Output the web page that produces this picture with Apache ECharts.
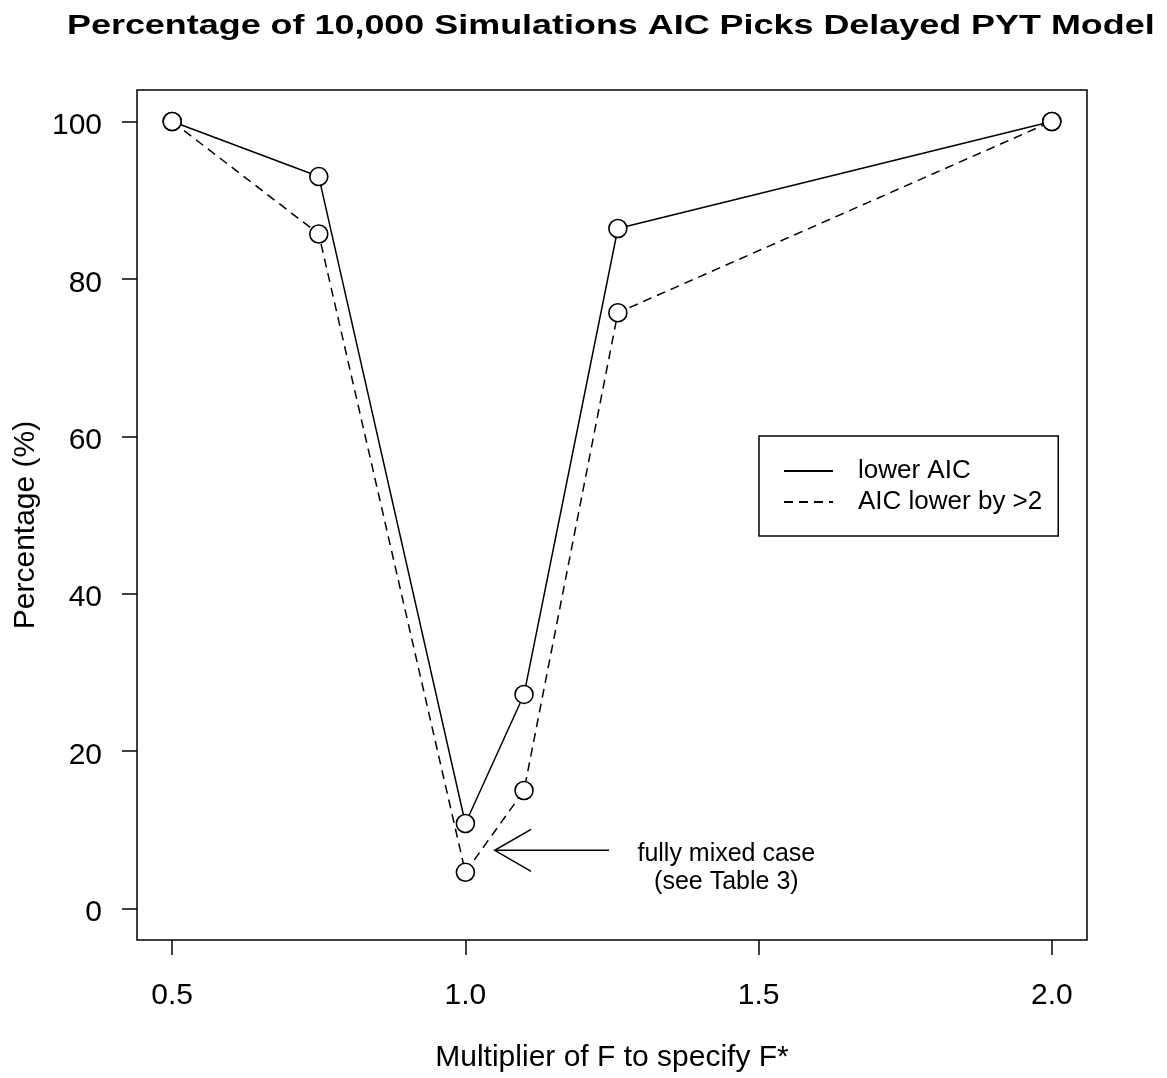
<!DOCTYPE html>
<html>
<head>
<meta charset="utf-8">
<script src="https://cdn.jsdelivr.net/npm/echarts@6/dist/echarts.min.js"></script>
<style>
  html, body { margin: 0; padding: 0; background: #fff; }
  #main { width: 1167px; height: 1078px; }
</style>
</head>
<body>
<div id="main"></div>
<script>
// 数据
const multipliers = [0.5, 0.75, 1.0, 1.1, 1.26, 2.0]
const lowerAIC = [100, 93.0, 10.8, 27.2, 86.4, 100]
const lowerBy2 = [100, 85.7, 4.6, 15.0, 75.7, 100]
const xTicks = [0.5, 1.0, 1.5, 2.0]
const yTicks = [0, 20, 40, 60, 80, 100]
// 注释箭头（数据坐标）
const arrowFrom = [1.245, 7.4]
const arrowTo = [1.05, 7.4]
const noteLines = ['fully mixed case', '(see Table 3)']
const notePos = [[1.445, 6.9], [1.445, 3.3]]

const FONT = 'Liberation Sans, Arial, sans-serif'
const TITLE = 'Percentage of 10,000 Simulations AIC Picks Delayed PYT Model'

function pairs(xs, ys) {
  return xs.map((x, i) => [x, ys[i]])
}

const chart = echarts.init(document.getElementById('main'))

const option = {
  animation: false,
  backgroundColor: '#fff',
  grid: {
    left: 137, right: 80, top: 90, bottom: 137,
    show: true, borderColor: '#000', borderWidth: 1.5
  },
  legend: {
    orient: 'vertical',
    left: 759,
    top: 436,
    padding: [22, 16, 21, 24],
    borderColor: '#000',
    borderWidth: 1.5,
    itemWidth: 49,
    itemHeight: 14,
    itemGap: 5,
    selectedMode: false,
    itemStyle: { opacity: 0 },
    textStyle: { fontFamily: FONT, fontSize: 26, color: '#000', padding: [0, 0, 0, 20] },
    data: ['lower AIC', 'AIC lower by >2']
  },
  xAxis: {
    type: 'value',
    min: 0.44,
    max: 2.06,
    name: 'Multiplier of F to specify F*',
    nameLocation: 'middle',
    nameGap: 103,
    nameTextStyle: { fontFamily: FONT, fontSize: 30, color: '#000' },
    axisLine: { show: false, onZero: false },
    splitLine: { show: false },
    axisTick: { show: true, inside: false, length: 15, customValues: xTicks, lineStyle: { color: '#000', width: 1.5 } },
    axisLabel: {
      customValues: xTicks, margin: 41,
      fontFamily: FONT, fontSize: 30, color: '#000',
      formatter: v => v.toFixed(1)
    }
  },
  yAxis: {
    type: 'value',
    min: -4,
    max: 104,
    name: 'Percentage (%)',
    nameLocation: 'middle',
    nameGap: 96,
    nameTextStyle: { fontFamily: FONT, fontSize: 30, color: '#000', padding: [0, 20, 0, 0] },
    axisLine: { show: false, onZero: false },
    splitLine: { show: false },
    axisTick: { show: true, inside: false, length: 15, customValues: yTicks, lineStyle: { color: '#000', width: 1.5 } },
    axisLabel: {
      customValues: yTicks, margin: 35,
      formatter: '{v|{value}}',
      rich: { v: { fontFamily: FONT, fontSize: 30, color: '#000', padding: [9, 0, 0, 0] } }
    }
  },
  series: [
    {
      name: 'lower AIC',
      type: 'line',
      data: pairs(multipliers, lowerAIC),
      symbol: 'circle',
      symbolSize: 18,
      lineStyle: { color: '#000', width: 1.5, type: 'solid' },
      itemStyle: { color: '#fff', borderColor: '#000', borderWidth: 1.6 },
      z: 3
    },
    {
      name: 'AIC lower by >2',
      type: 'line',
      data: pairs(multipliers, lowerBy2),
      symbol: 'circle',
      symbolSize: 18,
      lineStyle: { color: '#000', width: 1.5, type: [9, 6] },
      itemStyle: { color: '#fff', borderColor: '#000', borderWidth: 1.6 },
      z: 2
    }
  ]
}

chart.setOption(option)

// 注释：箭头和文字，按数据坐标换算到像素
const p0 = chart.convertToPixel({ gridIndex: 0 }, arrowFrom)
const p1 = chart.convertToPixel({ gridIndex: 0 }, arrowTo)
const headLen = 42
const ang = Math.PI / 6
const dir = Math.atan2(p0[1] - p1[1], p0[0] - p1[0])
const h1 = [p1[0] + headLen * Math.cos(dir - ang), p1[1] + headLen * Math.sin(dir - ang)]
const h2 = [p1[0] + headLen * Math.cos(dir + ang), p1[1] + headLen * Math.sin(dir + ang)]
const lineStyle = { stroke: '#000', lineWidth: 1.5, fill: null }

const graphics = [
  // 标题（原图标题被横向拉宽）
  {
    type: 'text', x: 67, y: 27, scaleX: 1.33,
    style: { text: TITLE, fontFamily: FONT, fontSize: 27, fontWeight: 'bold', fill: '#000', align: 'left', verticalAlign: 'middle' }
  },
  { type: 'polyline', shape: { points: [p0, p1] }, style: lineStyle },
  { type: 'polyline', shape: { points: [h1, p1, h2] }, style: lineStyle }
]
noteLines.forEach((t, i) => {
  const p = chart.convertToPixel({ gridIndex: 0 }, notePos[i])
  graphics.push({
    type: 'text',
    x: p[0], y: p[1],
    style: { text: t, fontFamily: FONT, fontSize: 25, fill: '#000', align: 'center', verticalAlign: 'middle' }
  })
})
chart.setOption({ graphic: graphics })
</script>
</body>
</html>
